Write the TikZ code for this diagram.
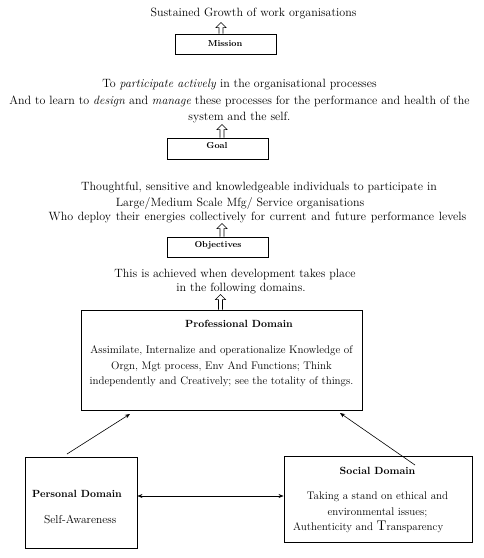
\documentclass[tikz,border=0pt]{standalone}
\usetikzlibrary{arrows.meta}
\begin{document}
\begin{tikzpicture}[x=1pt,y=-1pt,
  txt/.style={font=\fontsize{12}{16.5}\selectfont, inner sep=0pt, align=center},
  smalltxt/.style={font=\fontsize{11}{15.5}\selectfont, inner sep=0pt, align=center},
  boxlabel/.style={font=\bfseries\fontsize{8.7}{10}\selectfont, inner sep=0pt},
  domlabel/.style={font=\bfseries\fontsize{10.4}{12}\selectfont, inner sep=0pt},
  box/.style={draw, line width=0.9pt, inner sep=0pt},
  conn/.style={line width=0.6pt, -{Stealth[length=5pt,width=4pt]}},
  hollowup/.pic={\draw[line width=0.6pt, fill=white, line join=miter]
      (-2,0) -- (-2,-#1+5) -- (-5,-#1+5) -- (0,-#1) -- (5,-#1+5) -- (2,-#1+5) -- (2,0);}
]
\fill[white] (0,0) rectangle (484,558);
\useasboundingbox (0,0) rectangle (484,558);

% Mission
\node[txt] (title) at (253.5,14) {Sustained Growth of work organisations};
\node[box, minimum width=101pt, minimum height=20pt] (mission) at (225.5,44) {};
\node[boxlabel] (missiont) at (225,43.5) {Mission};
\pic at ([xshift=-4.5pt]mission.north) {hollowup=11};

% Goal
\node[txt] (goaltext) at (239.5,101.5) {To \textit{participate actively} in the organisational processes\\
And to learn to \textit{design} and \textit{manage} these processes for the performance and health of the\\
system and the self.};
\node[box, minimum width=101pt, minimum height=21pt] (goal) at (217.5,148.5) {};
\node[boxlabel] (goalt) at (217,146) {Goal};
\pic at ([xshift=4.5pt]goal.north) {hollowup=13};

% Objectives
\node[txt] (obj1) at (259,188) {Thoughtful, sensitive and knowledgeable individuals to participate in};
\node[txt] (obj2) at (240,203) {Large/Medium Scale Mfg/ Service organisations};
\node[txt] (obj3) at (257.5,218) {\spaceskip=4.7pt Who deploy their energies collectively for current and future performance levels};
\node[box, minimum width=101pt, minimum height=20pt] (objbox) at (217.5,247) {};
\node[boxlabel] (objt) at (218,245) {Objectives};
\pic at ([xshift=4.5pt]objbox.north) {hollowup=13};

% Achieved
\node[txt] (ach1) at (235,274) {This is achieved when development takes place};
\node[txt] (ach2) at (241,288.5) {in the following domains.};

% Professional
\node[box, minimum width=281pt, minimum height=100pt] (prof) at (221.5,360) {};
\node[domlabel] (proft) at (239,324) {Professional Domain};
\node[smalltxt] (profb) at (221.5,366.5) {Assimilate, Internalize and operationalize Knowledge of\\
Orgn, Mgt process, Env And Functions; Think\\
independently and Creatively; see the totality of things.};
\pic at ([xshift=-1pt]prof.north) {hollowup=15};

% Personal
\node[box, minimum width=112pt, minimum height=91pt] (pers) at (81,502.5) {};
\node[domlabel, anchor=west] (perst) at (32,494) {Personal Domain};
\node[smalltxt, anchor=west, font=\fontsize{11.5}{14}\selectfont] (persb) at (44,520) {Self-Awareness};

% Social
\node[box, minimum width=188pt, minimum height=86pt] (soc) at (378,499) {};
\node[domlabel] (soct) at (377.5,471) {Social Domain};
\node[smalltxt] (socb) at (377.5,504.5) {Taking a stand on ethical and\\ environmental issues;};
\node[smalltxt, anchor=west] (socc) at (293,527) {Authenticity and {\fontsize{14}{15}\selectfont T}ransparency};

% connectors
\coordinate (pa) at (67,454);
\coordinate (pb) at (130,414);
\coordinate (sa) at (415,465);
\coordinate (sb) at (340,413);
\coordinate (pe) at (pers.east |- 0,496);
\coordinate (sw) at (soc.west |- 0,496);
\draw[conn] (pa) -- (pb);
\draw[conn] (sa) -- (sb);
\draw[conn, {Stealth[length=5pt,width=4pt]}-{Stealth[length=5pt,width=4pt]}] (pe) -- (sw);
\end{tikzpicture}
\end{document}
